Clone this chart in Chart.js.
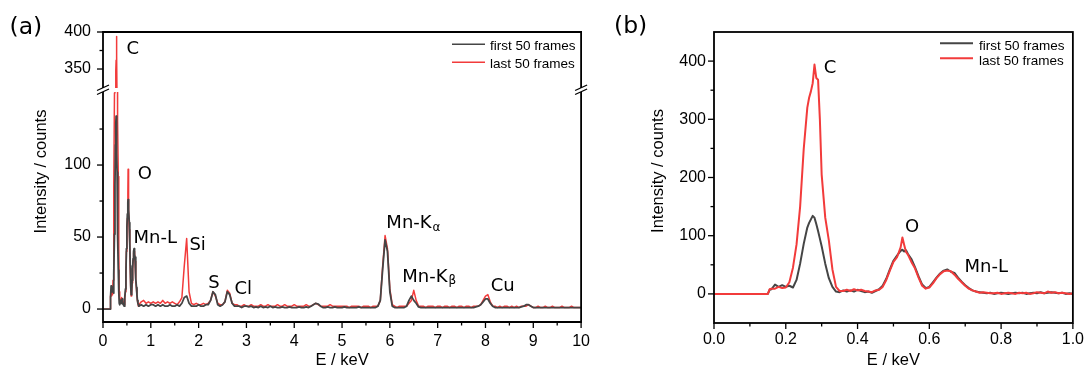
<!DOCTYPE html>
<html><head><meta charset="utf-8">
<script src="https://cdn.jsdelivr.net/npm/chart.js@4"></script>
<style>
html,body{margin:0;padding:0;background:#fff;}
#wrap{position:relative;width:1091px;height:373px;overflow:hidden;background:#fff;}
#ca{position:absolute;left:0;top:0;}
#cb{position:absolute;left:600px;top:0;}
</style></head><body>
<div id="wrap"><canvas id="ca" width="600" height="373"></canvas><canvas id="cb" width="491" height="373"></canvas></div>
<script>
// ---------- DATA ----------
// Low-energy part (0-1 keV), panel (b) and first part of panel (a)
const zoomEnergy = [0,0.05,0.10,0.15,0.155,0.16,0.17,0.18,0.19,0.20,0.21,0.22,0.23,0.24,0.25,0.26,0.265,0.27,0.275,0.28,0.285,0.29,0.295,
0.30,0.31,0.32,0.33,0.34,0.35,0.36,0.37,0.38,0.39,0.40,0.41,0.42,0.43,0.44,0.45,0.46,0.47,0.48,0.49,0.50,0.51,0.52,0.525,0.53,0.535,
0.54,0.55,0.56,0.57,0.58,0.59,0.60,0.61,0.62,0.63,0.64,0.65,0.66,0.67,0.68,0.69,0.70,0.71,0.72,0.73,0.74,0.75,
0.76,0.77,0.78,0.79,0.80,0.81,0.82,0.83,0.84,0.85,0.86,0.87,0.88,0.89,0.90,0.91,0.92,0.93,0.94,0.95,0.96,0.97,0.98,0.99,1.00];
const zoomFirst = [0,0,0,0,7,8,16,12,15,12,14,11,24,52,86,114,122,128,134,131,120,108,95,
82,52,27,12,4,3,6,4,6,4,7,5,3,4,2,5,8,14,26,42,57,66,74,76,73,75,
69,60,46,30,16,10,12,20,28,35,40,42,38,36,28,21,15,10,6,4,3,2,
1,2,0,1,2,1,0,1,2,1,2,0,1,2,1,3,1,2,3,2,1,2,0,1,0];
const zoomLast = [0,0,0,0,8,9,9,12,10,11,20,45,85,150,249,320,337,348,362,394,371,368,300,
205,131,92,42,12,5,5,7,5,8,6,7,5,4,3,6,7,12,24,40,55,63,80,97,84,72,
68,55,44,28,14,9,11,18,27,34,39,40,39,33,26,20,14,9,6,4,2,3,
2,1,1,2,0,1,2,1,0,2,1,2,0,1,3,2,1,4,2,3,1,2,1,0,1];
// Panel (a) wide spectrum, 0.80-10 keV
const wideEnergy = [0.80,0.85,0.90,0.95,1.00,
1.05,1.10,1.15,1.20,1.25,1.30,1.35,1.40,1.45,1.50,1.55,1.60,1.65,1.70,1.75,1.80,1.85,1.90,1.95,2.00,
2.05,2.10,2.15,2.20,2.25,2.30,2.35,2.40,2.45,2.50,2.55,2.60,2.65,2.70,2.75,2.80,2.85,2.90,2.95,3.00,
3.05,3.10,3.15,3.20,3.25,3.30,3.35,3.40,3.45,3.50,3.55,3.60,3.65,3.70,3.75,3.80,3.85,3.90,3.95,4.00,
4.05,4.10,4.15,4.20,4.25,4.30,4.35,4.40,4.45,4.50,4.55,4.60,4.65,4.70,4.75,4.80,4.85,4.90,4.95,5.00,
5.05,5.10,5.15,5.20,5.25,5.30,5.35,5.40,5.45,5.50,5.55,5.60,5.65,5.70,5.75,5.80,5.85,5.90,5.95,6.00,
6.05,6.10,6.15,6.20,6.25,6.30,6.35,6.40,6.45,6.50,6.55,6.60,6.65,6.70,6.75,6.80,6.85,6.90,6.95,7.00,
7.05,7.10,7.15,7.20,7.25,7.30,7.35,7.40,7.45,7.50,7.55,7.60,7.65,7.70,7.75,7.80,7.85,7.90,7.95,8.00,
8.05,8.10,8.15,8.20,8.25,8.30,8.35,8.40,8.45,8.50,8.55,8.60,8.65,8.70,8.75,8.80,8.85,8.90,8.95,9.00,
9.05,9.10,9.15,9.20,9.25,9.30,9.35,9.40,9.45,9.50,9.55,9.60,9.65,9.70,9.75,9.80,9.85,9.90,9.95,10.00];
const wideFirst = [3,2,3,2,3,
3,2,3,2,3,2,2,3,2,2,3,2,4,8,9,4,2,2,2,3,
2,2,3,3,6,12,10,3,2,3,5,12,10,4,2,2,2,1,2,2,
1.5,2,1,1.5,1,2,1,1.5,1,2,1,1.5,1,1,1.5,1,1,1.5,1,1,
1,1.5,1,1,1.5,1,2,3,4,3.5,2,1,1,1.5,1,1,1.5,1,1,1,
1.5,1,1,1,1,1,1.5,1,1,1,1,1,1,1,2,6,28,48,40,12,
2,1,1,1,1,1,2,6,9,6,4,1.5,1,1,1,1,1,1,1,1,
1,1,1,1,1,1,1,1,1,1,1,1,1,1,1,1.5,2,3,5,7,
7,4,2,1,1,1,1,1,1,1,1,1,1,1,1.5,2,3,3,2,1,
1,1,1,1,1,1,1,1,1,1,1,1,1,1,1,1,1,1,1,1];
const wideLast = [5,6,4,5,4,
5,4,5,4,6,4,5,4,5,4,3,5,8,30,49,12,4,3,4,3,
3,4,3,4,6,12,9,4,3,3,5,13,11,4,3,3,2,2,3,2,
2,3,2,2,2,3,2,2,3,2,2,2,3,2,2,3,2,2,2,3,
2,2,2,2,3,2,2,3,4,3,2,2,2,2,3,2,2,2,2,2,
2,2,1,2,2,2,2,1,2,2,2,1,2,2,2,6,30,51,42,14,
3,2,1,2,2,2,2,4,6,13,6,2,2,2,1,2,2,2,1,2,
2,1,2,2,1,2,2,1,2,2,1,2,2,1,2,2,2,3,6,9,
10,5,2,2,1,2,1,2,2,1,2,1,2,1,2,2,2,3,2,1,
1,2,1,1,2,1,1,2,1,1,1,2,1,1,1,2,1,1,1,1];

// tick values
const xTicksA = [0,1,2,3,4,5,6,7,8,9,10];
const xMinorA = [0.5,1.5,2.5,3.5,4.5,5.5,6.5,7.5,8.5,9.5];
const yTicksALow = [0,50,100];
const yMinorALow = [25,75,125];
const yTicksAHigh = [350,400];
const yMinorAHigh = [375];
const xTicksB = [0,0.2,0.4,0.6,0.8,1.0];
const xMinorB = [0.1,0.3,0.5,0.7,0.9];
const yTicksB = [0,100,200,300,400];
const yMinorB = [50,150,250,350];

const seriesNames = ['first 50 frames','last 50 frames'];
const peaksA = [
 {text:'C', e:0.49, v:370.7, axis:'yHigh'},
 {text:'O', e:0.729, v:90.3, axis:'yLow'},
 {text:'Mn-L', e:0.638, v:46, axis:'yLow'},
 {text:'Si', e:1.808, v:41, axis:'yLow'},
 {text:'S', e:2.2, v:14.4, axis:'yLow'},
 {text:'Cl', e:2.748, v:10.2, axis:'yLow'},
 {text:'Mn-K', sub:'\u03b1', e:5.927, v:56, axis:'yLow'},
 {text:'Mn-K', sub:'\u03b2', e:6.258, v:19, axis:'yLow'},
 {text:'Cu', e:8.11, v:12.7, axis:'yLow'}
];
const peaksB = [
 {text:'C', e:0.3058, v:379, axis:'y'},
 {text:'O', e:0.5325, v:105.5, axis:'y'},
 {text:'Mn-L', e:0.698, v:38, axis:'y'}
];

// ---------- STYLE ----------
const SANS = '"Liberation Sans", Arial, sans-serif';
const DJV = '"DejaVu Sans", Verdana, sans-serif';
const GREY = '#454545', RED = '#f23b3b';

function pts(xs, ys){ return xs.map((x,i)=>({x:x, y:ys[i]})); }
function seg(ctx,x1,y1,x2,y2){ctx.beginPath();ctx.moveTo(x1,y1);ctx.lineTo(x2,y2);ctx.stroke();}
function xTicks(ctx,s,y,maj,min){maj.forEach(v=>{const p=s.getPixelForValue(v);seg(ctx,p,y,p,y+6);});min.forEach(v=>{const p=s.getPixelForValue(v);seg(ctx,p,y,p,y+3.5);});}
function yTicks(ctx,s,x,maj,min){maj.forEach(v=>{const p=s.getPixelForValue(v);seg(ctx,x-6,p,x,p);});min.forEach(v=>{const p=s.getPixelForValue(v);seg(ctx,x-3.5,p,x,p);});}
function yTitle(ctx,text,cx,cy){ctx.save();ctx.translate(cx,cy);ctx.rotate(-Math.PI/2);ctx.font='16.5px '+SANS;ctx.textAlign='center';ctx.textBaseline='middle';ctx.fillStyle='#000';ctx.fillText(text,0,0);ctx.restore();}
function panelLetter(ctx,text,x,y){ctx.font='23.5px '+DJV;ctx.fillStyle='#000';ctx.textAlign='left';ctx.textBaseline='alphabetic';ctx.fillText(text,x,y);}
function legend(ctx,chart,x0,x1,tx,lys,bys,lw){
  const ds = chart.data.datasets;
  [0,1].forEach(i=>{
    const d = ds.find(q=>q.label===seriesNames[i]);
    ctx.strokeStyle=d.borderColor; ctx.lineWidth=lw; seg(ctx,x0,lys[i],x1,lys[i]);
    ctx.fillStyle='#000'; ctx.font='13.5px '+SANS; ctx.textAlign='left'; ctx.textBaseline='alphabetic';
    ctx.fillText(d.label,tx,bys[i]);
  });
}
function peakLabels(ctx,chart,list){
  ctx.fillStyle='#000'; ctx.textAlign='left'; ctx.textBaseline='alphabetic';
  list.forEach(p=>{
    const x=chart.scales.x.getPixelForValue(p.e), y=chart.scales[p.axis].getPixelForValue(p.v);
    ctx.font='18px '+DJV; ctx.fillText(p.text,x,y);
    if(p.sub){const w=ctx.measureText(p.text).width; ctx.font='12px '+DJV; ctx.fillText(p.sub,x+w+1,y+2.5);}
  });
}

const clipPlugin = {
  id:'scaleClip',
  beforeDatasetDraw(chart,args){
    const ys=args.meta.yScale, ca=chart.chartArea;
    const ins=(chart.$clipInset&&chart.$clipInset[ys.id])||[0,0];
    const ctx=chart.ctx; ctx.save(); ctx.beginPath();
    ctx.rect(ca.left-2, ys.top+ins[0], ca.right-ca.left+4, ys.bottom-ys.top-ins[0]-ins[1]); ctx.clip();
  },
  afterDatasetDraw(chart){ chart.ctx.restore(); }
};

const baseScale = {
  ticks:{color:'#000',font:{family:SANS,size:16},autoSkip:false,maxRotation:0},
  grid:{display:false,drawTicks:false},
  border:{display:false}
};

// ---------- CHART (a) ----------
const lowIdx = zoomEnergy.filter(e=>e<=0.75).length;
const aEnergy = zoomEnergy.slice(0,lowIdx).concat(wideEnergy);
const aFirst = zoomFirst.slice(0,lowIdx).concat(wideFirst);
const aLast = zoomLast.slice(0,lowIdx).concat(wideLast);

const decorA = {
  id:'decorA',
  afterDraw(chart){
    const ctx=chart.ctx, ca=chart.chartArea, hi=chart.scales.yHigh, lo=chart.scales.yLow;
    const gT=hi.bottom-1, gB=lo.top+3;
    ctx.save();
    ctx.strokeStyle='#000'; ctx.lineWidth=1.8; ctx.lineJoin='miter'; ctx.lineCap='butt';
    ctx.beginPath(); ctx.moveTo(ca.left,gT); ctx.lineTo(ca.left,ca.top); ctx.lineTo(ca.right,ca.top); ctx.lineTo(ca.right,gT); ctx.stroke();
    ctx.beginPath(); ctx.moveTo(ca.left,gB); ctx.lineTo(ca.left,ca.bottom); ctx.lineTo(ca.right,ca.bottom); ctx.lineTo(ca.right,gB); ctx.stroke();
    ctx.lineWidth=1.3;
    [ca.left,ca.right].forEach(x=>{ seg(ctx,x-6,gT+2.5,x+6,gT-3); seg(ctx,x-6,gB+2.5,x+6,gB-3); });
    xTicks(ctx,chart.scales.x,ca.bottom,xTicksA,xMinorA);
    yTicks(ctx,lo,ca.left,yTicksALow,yMinorALow);
    yTicks(ctx,hi,ca.left,yTicksAHigh,yMinorAHigh);
    legend(ctx,chart,452,485,490,[44.3,62.3],[49.8,67.8],1.5);
    peakLabels(ctx,chart,peaksA);
    yTitle(ctx,'Intensity / counts',41,171.5);
    panelLetter(ctx,'(a)',9.5,33.5);
    ctx.restore();
  }
};

const chartA = new Chart(document.getElementById('ca'),{
  type:'line',
  data:{datasets:[
    {label:seriesNames[0],data:pts(aEnergy,aFirst),yAxisID:'yLow',borderColor:GREY,borderWidth:1.8,pointRadius:0,order:0,borderJoinStyle:'round'},
    {label:seriesNames[1],data:pts(aEnergy,aLast),yAxisID:'yLow',borderColor:RED,borderWidth:1.5,pointRadius:0,order:1,borderJoinStyle:'round'},
    {label:seriesNames[1]+' (upper)',data:pts(aEnergy,aLast),yAxisID:'yHigh',borderColor:RED,borderWidth:1.5,pointRadius:0,order:2,borderJoinStyle:'round'}
  ]},
  options:{
    responsive:false, animation:false, events:[],
    layout:{padding:{left:0,right:13,top:32,bottom:0}},
    plugins:{legend:{display:false},tooltip:{enabled:false}},
    scales:{
      x:Object.assign({},baseScale,{type:'linear',position:'bottom',min:0,max:10,
        ticks:Object.assign({},baseScale.ticks,{padding:10}),
        afterBuildTicks:s=>{s.ticks=xTicksA.map(v=>({value:v}));},
        afterFit:s=>{s.height=51;},
        title:{display:true,text:'E / keV',color:'#000',font:{family:SANS,size:16.5},padding:{top:0,bottom:3}}}),
      yLow:Object.assign({},baseScale,{type:'linear',position:'left',stack:'a',stackWeight:233,min:-9,max:152.8,
        ticks:Object.assign({},baseScale.ticks,{padding:12}),
        afterBuildTicks:s=>{s.ticks=yTicksALow.map(v=>({value:v}));},
        afterFit:s=>{s.width=103;}}),
      yHigh:Object.assign({},baseScale,{type:'linear',position:'left',stack:'a',stackWeight:57,min:323,max:400,
        ticks:Object.assign({},baseScale.ticks,{padding:12}),
        afterBuildTicks:s=>{s.ticks=yTicksAHigh.map(v=>({value:v}));},
        afterFit:s=>{s.width=103;}})
    }
  },
  plugins:[clipPlugin,decorA]
});
chartA.$clipInset={yHigh:[0,1],yLow:[3,0]};
chartA.draw();

// ---------- CHART (b) ----------
const decorB = {
  id:'decorB',
  afterDraw(chart){
    const ctx=chart.ctx, ca=chart.chartArea;
    ctx.save();
    ctx.strokeStyle='#000'; ctx.lineWidth=1.8;
    ctx.strokeRect(ca.left,ca.top,ca.right-ca.left,ca.bottom-ca.top);
    ctx.lineWidth=1.3;
    xTicks(ctx,chart.scales.x,ca.bottom,xTicksB,xMinorB);
    yTicks(ctx,chart.scales.y,ca.left,yTicksB,yMinorB);
    legend(ctx,chart,340,373,379,[43.3,58.3],[49.8,64.6],2);
    peakLabels(ctx,chart,peaksB);
    yTitle(ctx,'Intensity / counts',58,171);
    panelLetter(ctx,'(b)',14,33);
    ctx.restore();
  }
};

new Chart(document.getElementById('cb'),{
  type:'line',
  data:{datasets:[
    {label:seriesNames[0],data:pts(zoomEnergy,zoomFirst),borderColor:GREY,borderWidth:2,pointRadius:0,order:1,borderJoinStyle:'round'},
    {label:seriesNames[1],data:pts(zoomEnergy,zoomLast),borderColor:RED,borderWidth:2,pointRadius:0,order:0,borderJoinStyle:'round'}
  ]},
  options:{
    responsive:false, animation:false, events:[],
    layout:{padding:{left:0,right:14,top:32,bottom:0}},
    plugins:{legend:{display:false},tooltip:{enabled:false}},
    scales:{
      x:Object.assign({},baseScale,{type:'linear',position:'bottom',min:0,max:1,
        ticks:Object.assign({},baseScale.ticks,{padding:7,callback:v=>Number(v).toFixed(1)}),
        afterBuildTicks:s=>{s.ticks=xTicksB.map(v=>({value:v}));},
        afterFit:s=>{s.height=50;},
        title:{display:true,text:'E / keV',color:'#000',font:{family:SANS,size:16.5},padding:{top:0,bottom:3}}}),
      y:Object.assign({},baseScale,{type:'linear',position:'left',min:-50,max:450,
        ticks:Object.assign({},baseScale.ticks,{padding:8}),
        afterBuildTicks:s=>{s.ticks=yTicksB.map(v=>({value:v}));},
        afterFit:s=>{s.width=114;}})
    }
  },
  plugins:[decorB]
});
</script>
</body></html>
